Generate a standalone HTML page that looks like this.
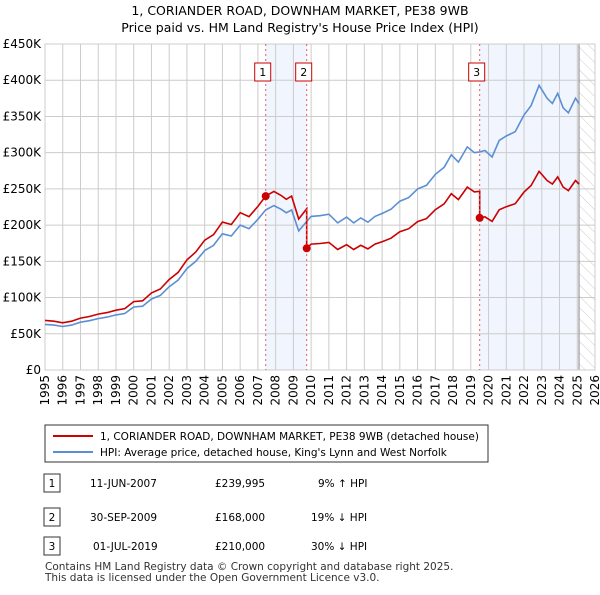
<!DOCTYPE html>
<html><head><meta charset="utf-8"><style>
body{margin:0;background:#fff;font-family:"Liberation Sans","DejaVu Sans",sans-serif;}
svg text{font-family:"DejaVu Sans","Liberation Sans",sans-serif;}
</style></head><body>
<svg id="c" width="600" height="590" xmlns="http://www.w3.org/2000/svg">
<defs><pattern id="hatch" width="8" height="8" patternUnits="userSpaceOnUse" patternTransform="rotate(-45)"><line x1="0" y1="0" x2="0" y2="8" stroke="#ccc" stroke-width="1"/></pattern></defs>
<text x="300" y="15" text-anchor="middle" font-size="12.5">1, CORIANDER ROAD, DOWNHAM MARKET, PE38 9WB</text>
<text x="300" y="32" text-anchor="middle" font-size="12.5">Price paid vs. HM Land Registry's House Price Index (HPI)</text>
<g id="plot"></g>
<rect x="45" y="425" width="443" height="37" fill="#fff" stroke="#333"/>
<line x1="53" y1="436" x2="93" y2="436" stroke="#cc0000" stroke-width="2"/>
<text x="100" y="440" font-size="10.5">1, CORIANDER ROAD, DOWNHAM MARKET, PE38 9WB (detached house)</text>
<line x1="53" y1="452" x2="93" y2="452" stroke="#5b8fd4" stroke-width="2"/>
<text x="100" y="456" font-size="10.5">HPI: Average price, detached house, King's Lynn and West Norfolk</text>
<g font-size="10.5">
<rect x="44" y="474" width="16" height="18" fill="#fff" stroke="#333"/><text x="52" y="487" text-anchor="middle">1</text>
<text x="90" y="487">11-JUN-2007</text><text x="215" y="487">£239,995</text><text x="318" y="487">9% ↑ HPI</text>
<rect x="44" y="508" width="16" height="18" fill="#fff" stroke="#333"/><text x="52" y="521" text-anchor="middle">2</text>
<text x="90" y="521">30-SEP-2009</text><text x="215" y="521">£168,000</text><text x="311" y="521">19% ↓ HPI</text>
<rect x="44" y="537" width="16" height="18" fill="#fff" stroke="#333"/><text x="52" y="550" text-anchor="middle">3</text>
<text x="93" y="550">01-JUL-2019</text><text x="215" y="550">£210,000</text><text x="311" y="550">30% ↓ HPI</text>
</g>
<text x="45" y="570" font-size="10.5" fill="#333">Contains HM Land Registry data © Crown copyright and database right 2025.</text>
<text x="45" y="581" font-size="10.5" fill="#333">This data is licensed under the Open Government Licence v3.0.</text>
</svg>
<script>
const hpiYears=[1995.0,1995.5,1996.0,1996.5,1997.0,1997.5,1998.0,1998.5,1999.0,1999.5,2000.0,2000.5,2001.0,2001.5,2002.0,2002.5,2003.0,2003.5,2004.0,2004.5,2005.0,2005.5,2006.0,2006.5,2007.0,2007.44,2007.9,2008.3,2008.6,2008.9,2009.3,2009.75,2010.0,2010.5,2011.0,2011.5,2012.0,2012.4,2012.8,2013.2,2013.6,2014.0,2014.5,2015.0,2015.5,2016.0,2016.5,2017.0,2017.5,2017.9,2018.3,2018.8,2019.2,2019.5,2019.8,2020.2,2020.6,2021.0,2021.5,2022.0,2022.4,2022.85,2023.3,2023.6,2023.9,2024.2,2024.5,2024.9,2025.1];
const hpiValues=[63,62,60,62,66,68,71,73,76,78,87,88,98,103,115,124,140,150,165,172,188,185,200,195,208,221,227,222,217,221,192,205,212,213,215,203,211,203,210,204,212,216,222,233,238,250,255,270,280,297,287,308,300,301,303,294,317,323,329,352,365,393,375,368,382,362,355,375,368];
const saleYears=[2007.44,2009.75,2019.5];
const salePrices=[239.995,168,210];
const saleLabels=["1","2","3"];
const yTicks=[0,50,100,150,200,250,300,350,400,450];
const yTickLabels=["£0","£50K","£100K","£150K","£200K","£250K","£300K","£350K","£400K","£450K"];
const xTicks=[1995,1996,1997,1998,1999,2000,2001,2002,2003,2004,2005,2006,2007,2008,2009,2010,2011,2012,2013,2014,2015,2016,2017,2018,2019,2020,2021,2022,2023,2024,2025,2026];
const dataEnd=2025.1;

const L=45,R=595,T=44,B=370;
const xs=y=>L+(y-1995)/(2026-1995)*(R-L);
const ys=v=>B-v/450*(B-T);
const NS="http://www.w3.org/2000/svg";
const g=document.getElementById('plot');
function mk(tag,attrs,parent){const e=document.createElementNS(NS,tag);for(const k in attrs)e.setAttribute(k,attrs[k]);(parent||g).appendChild(e);return e;}
function hpiAt(t){for(let i=0;i<hpiYears.length-1;i++){if(t>=hpiYears[i]&&t<=hpiYears[i+1]){const f=(t-hpiYears[i])/(hpiYears[i+1]-hpiYears[i]);return hpiValues[i]+f*(hpiValues[i+1]-hpiValues[i]);}}return hpiValues[hpiValues.length-1];}

let r=mk('rect',{x:L,y:T,width:R-L,height:B-T,fill:'#fff'});

// shaded ownership regions
[[saleYears[0],saleYears[1]],[saleYears[2],dataEnd]].forEach((p,i)=>{
 const s=mk('rect',{x:xs(p[0]),y:T,width:xs(p[1])-xs(p[0]),height:B-T,fill:'#eef3fc',opacity:0.8});
 
 
});
const h=mk('rect',{x:xs(dataEnd),y:T,width:R-xs(dataEnd),height:B-T,fill:'url(#hatch)'});


yTicks.forEach((v,i)=>{
 const l=mk('line',{x1:L,x2:R,y1:ys(v),y2:ys(v),stroke:'#ccc','stroke-width':1});
 
 
 const t=mk('text',{x:L-4,y:ys(v)+4,'text-anchor':'end','font-size':12});
 t.textContent=yTickLabels[i];
 
 
});
xTicks.forEach(y=>{
 const l=mk('line',{x1:xs(y),x2:xs(y),y1:T,y2:B,stroke:'#ccc','stroke-width':1});
 
 
 const t=mk('text',{x:0,y:0,'text-anchor':'end','font-size':12,transform:`translate(${xs(y)+4},${B+5}) rotate(-90)`});
 t.textContent=y;
 
 
});
const el=mk('line',{x1:xs(dataEnd),x2:xs(dataEnd),y1:T,y2:B,stroke:'#888','stroke-width':1});


const fr=mk('rect',{x:L,y:T,width:R-L,height:B-T,fill:'none',stroke:'#ccc'});


// HPI line
const hp=mk('path',{d:hpiYears.map((y,i)=>(i?'L':'M')+xs(y).toFixed(1)+','+ys(hpiValues[i]).toFixed(1)).join(''),fill:'none',stroke:'#5b8fd4','stroke-width':1.6});


// price paid line (HPI indexed to each sale)
let d='';
hpiYears.forEach((y,i)=>{
 let k=0;for(let j=0;j<saleYears.length;j++)if(y>=saleYears[j]-1e-9)k=j;
 const v=hpiValues[i]*salePrices[k]/hpiAt(saleYears[k]);
 if(i>0&&k>0&&hpiYears[i-1]<saleYears[k]&&y>=saleYears[k]){
   const vp=hpiAt(saleYears[k])*salePrices[k-1]/hpiAt(saleYears[k-1]);
   d+='L'+xs(saleYears[k]).toFixed(1)+','+ys(vp).toFixed(1);
   d+='L'+xs(saleYears[k]).toFixed(1)+','+ys(salePrices[k]).toFixed(1);
 }
 d+=(i?'L':'M')+xs(y).toFixed(1)+','+ys(v).toFixed(1);
});
const pp=mk('path',{d:d,fill:'none',stroke:'#cc0000','stroke-width':1.6});


saleYears.forEach((y,i)=>{
 const vl=mk('line',{x1:xs(y),x2:xs(y),y1:T,y2:B,stroke:'#e06060','stroke-width':1,'stroke-dasharray':'2,3'});
 
 
 const c=mk('circle',{cx:xs(y),cy:ys(salePrices[i]),r:4,fill:'#cc0000'});
 
 
 const b=mk('rect',{x:xs(y)-11,y:63,width:16,height:18,fill:'#fff',stroke:'#cc0000'});
 
 
 const t=mk('text',{x:xs(y)-3,y:76,'text-anchor':'middle','font-size':11});
 t.textContent=saleLabels[i];
 
 
});
</script>
</body></html>
